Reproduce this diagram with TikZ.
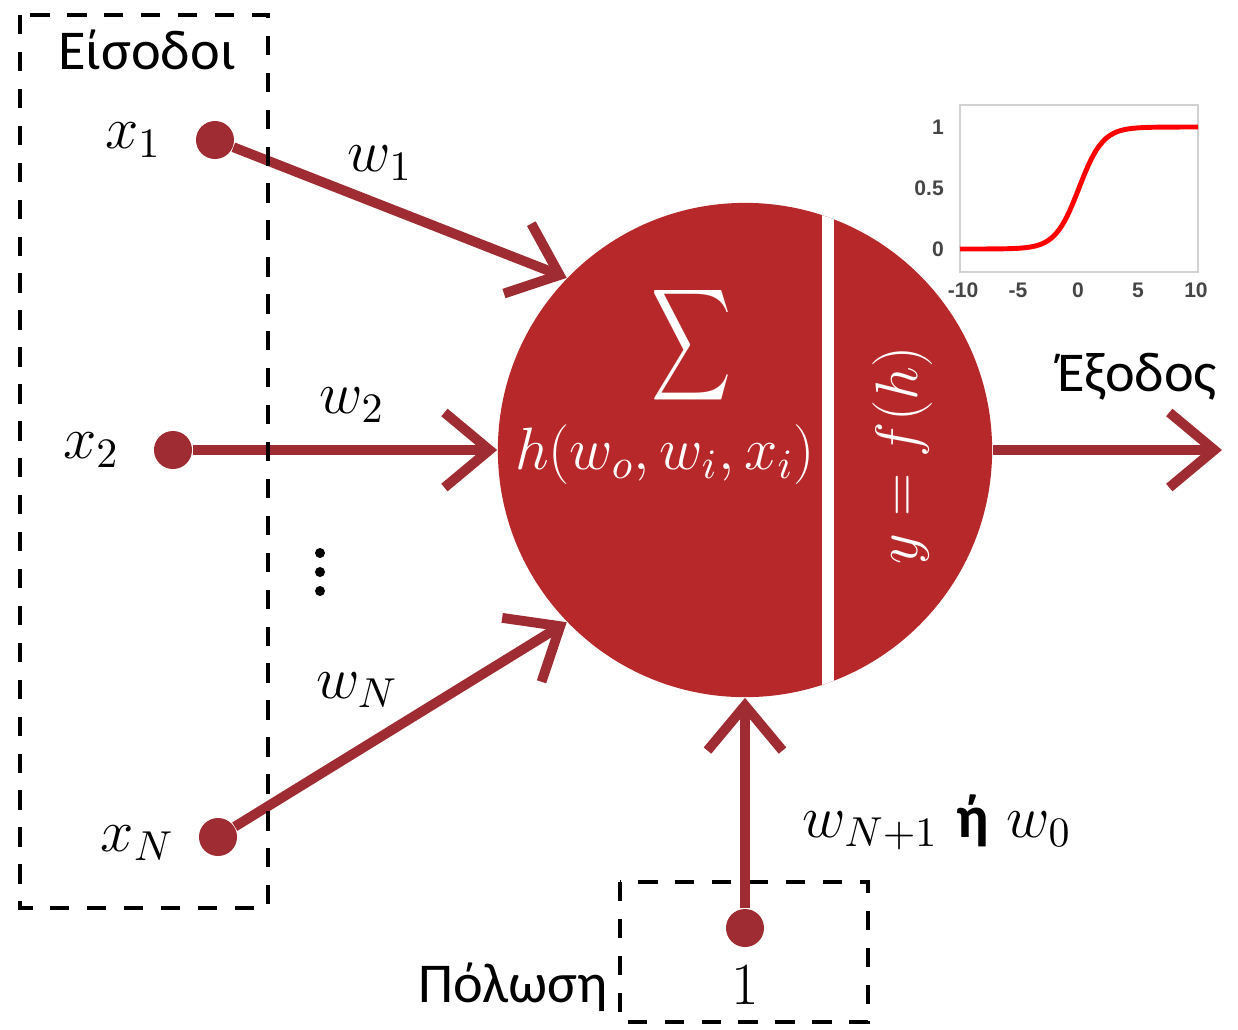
\RequirePackage{fix-cm}
\documentclass[tikz,border=0pt]{standalone}
\usepackage{fontspec}
\usepackage{graphicx}
\newfontfamily\grfont{Carlito}
\newfontfamily\plotfont{Liberation Sans}
\usetikzlibrary{arrows.meta,positioning}
\definecolor{neuronred}{RGB}{183,40,42}
\definecolor{linkred}{RGB}{158,44,50}
\definecolor{tickgray}{RGB}{70,70,70}

\begin{document}
\begin{tikzpicture}[x=0.01cm, y=-0.01cm, node distance=3mm]
\tikzset{
  inpt/.style={circle, fill=linkred, minimum size=3.8mm, inner sep=0pt},
  link/.style={linkred, line width=2.8pt, -{Straight Barb[length=4.5mm, width=7.5mm]}},
  grp/.style={draw=black, line width=1.2pt, dash pattern=on 5.5pt off 5pt},
  lbl/.style={font=\fontsize{17}{20}\selectfont, inner sep=1pt},
  word/.style={font=\grfont\fontsize{16}{19}\selectfont, inner sep=1pt},
  tick/.style={font=\plotfont\bfseries\fontsize{6}{7}\selectfont, text=tickgray, inner sep=1pt}
}
\useasboundingbox (0,0) rectangle (1238,1029);

% bias group
\draw[grp] (620,882) rectangle (868,1022);

% neuron
\node[circle, fill=neuronred, minimum size=4.94cm, inner sep=0pt] (neuron) at (745,450) {};
\begin{scope}
\clip (neuron.center) circle (2.47cm);
\fill[white] (822,190) rectangle (834,710);
\end{scope}
\node[text=white, inner sep=0pt] (sum) at (692,345) {\resizebox*{0.8cm}{1.25cm}{$\displaystyle\sum$}};
\node[lbl, text=white] (hfun) at (665,455) {$h(w_o,w_i,x_i)$};
\node[lbl, text=white, rotate=90] (act) at (903,455) {$y=f(h)$};

% inputs
\node[inpt] (x1) at (215,140) {};
\node[inpt] (x2) at (173,450) {};
\node[inpt] (xN) at (218,837) {};
\node[inpt] (bias) at (745,928) {};
\coordinate (out) at (1222,450);
\node[lbl, left=3mm of x1] (x1lbl) {$x_1$};
\node[lbl, left=3mm of x2] (x2lbl) {$x_2$};
\node[lbl, left=2mm of xN, yshift=-0.06cm] (xNlbl) {$x_N$};

\draw[link] (x1) -- (neuron.136);
\draw[link] (x2) -- (neuron.west);
\draw[link] (xN) -- (neuron.224);
\draw[link] (bias) -- (neuron.south);
\draw[link] (neuron.east) -- (out);

% input group
\draw[grp] (20,15) rectangle (268,908);
\node[word] (inlbl) at (147,50) {Είσοδοι};

% weights
\node[lbl] (w1) at (380,163) {$w_1$};
\node[lbl] (w2) at (352,405) {$w_2$};
\foreach \yp in {553,572,591}
  \fill (320,\yp) circle (0.05cm);
\node[lbl] (wN) at (357,690) {$w_N$};
\node[lbl] (w0) at (937,822) {$w_{N+1}$ {\grfont\bfseries ή} $w_0$};
\node[lbl] (one) at (745,985) {$1$};
\node[word] (pol) at (513,987) {Πόλωση};
\node[word] (outlbl) at (1137,377) {Έξοδος};

% activation inset
\draw[gray!35, line width=0.6pt] (960,105) rectangle (1198,272);
\foreach \t/\xp in {-10/963,-5/1018,0/1078,5/1138,10/1196}
  \node[tick] at (\xp,290) {\t};
\foreach \t/\yp in {0/249,0.5/188,1/127}
  \node[tick, anchor=east] at (948,\yp) {\t};
\draw[red, line width=1.4pt] (960,249) -- plot[domain=-9:9, samples=60] ({1079+11.9*\x},{249-122/(1+exp(-\x))}) -- (1198,127);
\end{tikzpicture}
\end{document}
